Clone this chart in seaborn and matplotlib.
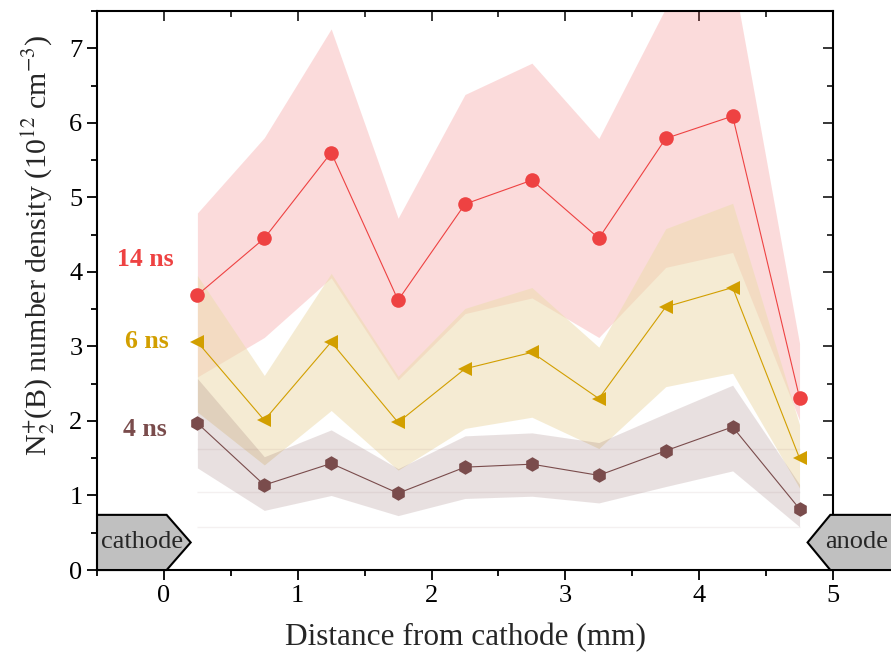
import numpy as np
import pandas as pd
import matplotlib
matplotlib.use('Agg')
import matplotlib.pyplot as plt
from matplotlib.patches import Polygon
from matplotlib.ticker import MultipleLocator
import seaborn as sns

# ---- data ----
x_mm = [0.25, 0.75, 1.25, 1.75, 2.25, 2.75, 3.25, 3.75, 4.25, 4.75]

n_14ns = [3.69, 4.45, 5.60, 3.62, 4.91, 5.23, 4.45, 5.79, 6.09, 2.31]
n_14ns_hi = [4.79, 5.80, 7.26, 4.72, 6.38, 6.80, 5.79, 7.54, 8.00, 3.04]
n_14ns_lo = [2.59, 3.12, 3.92, 2.55, 3.44, 3.65, 3.12, 4.06, 4.26, 2.01]

n_6ns = [3.06, 2.01, 3.06, 1.98, 2.70, 2.92, 2.30, 3.53, 3.79, 1.50]
n_6ns_hi = [3.95, 2.61, 3.98, 2.60, 3.51, 3.79, 2.99, 4.58, 4.92, 1.95]
n_6ns_lo = [2.12, 1.41, 2.14, 1.34, 1.90, 2.05, 1.63, 2.46, 2.64, 1.10]

n_4ns = [1.97, 1.14, 1.43, 1.03, 1.38, 1.42, 1.27, 1.60, 1.92, 0.82]
n_4ns_hi = [2.57, 1.52, 1.88, 1.36, 1.80, 1.84, 1.71, 2.10, 2.48, 1.15]
n_4ns_lo = [1.37, 0.80, 1.00, 0.73, 0.96, 0.99, 0.90, 1.12, 1.33, 0.58]

delays = ['14 ns', '6 ns', '4 ns']
faint_lines = [0.58, 1.05, 1.62]

colors = {'14 ns': '#EE4242', '6 ns': '#D29F00', '4 ns': '#7A4C4C'}
# band fill colours / opacity (pale fills, drawn 14 -> 6 -> 4 ns)
band_colors = {'14 ns': '#EE4242', '6 ns': '#EDDCAF', '4 ns': '#7A4C4C'}
band_alpha = {'14 ns': 0.19, '6 ns': 0.55, '4 ns': 0.17}
markers = {'14 ns': 'o', '6 ns': '<', '4 ns': 'h'}

df = pd.concat([
    pd.DataFrame({'x': x_mm, 'n': n_14ns, 'lo': n_14ns_lo, 'hi': n_14ns_hi, 't': '14 ns'}),
    pd.DataFrame({'x': x_mm, 'n': n_6ns, 'lo': n_6ns_lo, 'hi': n_6ns_hi, 't': '6 ns'}),
    pd.DataFrame({'x': x_mm, 'n': n_4ns, 'lo': n_4ns_lo, 'hi': n_4ns_hi, 't': '4 ns'}),
], ignore_index=True)

# ---- style ----
sns.set_theme(style='ticks')
plt.rcParams['font.family'] = ['Liberation Serif', 'DejaVu Serif']
plt.rcParams['mathtext.fontset'] = 'stix'

fig = plt.figure(figsize=(8.91, 6.67), dpi=100)
ax = fig.add_axes([0.1089, 0.1454, 0.8260, 0.8381])

# bands
for t in delays:
    d = df[df['t'] == t]
    ax.fill_between(d['x'], d['lo'], d['hi'], color=band_colors[t],
                    alpha=band_alpha[t], linewidth=0, zorder=1)

ax.hlines(faint_lines, x_mm[0], x_mm[-1], color='#7A4C4C', alpha=0.08,
          linewidth=1.0, zorder=1)

sns.lineplot(data=df, x='x', y='n', hue='t', style='t', hue_order=delays,
             palette=colors, markers=markers, dashes=False, markersize=10.5,
             markeredgewidth=0, linewidth=0.8, legend=False, errorbar=None,
             ax=ax, zorder=3)

# axes
ax.set_xlim(-0.5, 5.0)
ax.set_ylim(0, 7.5)
ax.xaxis.set_major_locator(MultipleLocator(1))
ax.xaxis.set_minor_locator(MultipleLocator(0.5))
ax.yaxis.set_major_locator(MultipleLocator(1))
ax.yaxis.set_minor_locator(MultipleLocator(0.5))
ax.tick_params(which='both', direction='out', width=1.3, labelsize=19,
               color='black', labelcolor='black')
ax.tick_params(which='major', length=7)
ax.tick_params(which='minor', length=4)
for s in ax.spines.values():
    s.set_linewidth(1.5)
    s.set_color('black')
    s.set_visible(True)

secx = ax.secondary_xaxis('top')
secx.xaxis.set_major_locator(MultipleLocator(1))
secx.xaxis.set_minor_locator(MultipleLocator(0.5))
secx.tick_params(which='both', direction='in', labeltop=False, width=1.3)
secx.tick_params(which='major', length=7)
secx.tick_params(which='minor', length=4)
secy = ax.secondary_yaxis('right')
secy.yaxis.set_major_locator(MultipleLocator(1))
secy.yaxis.set_minor_locator(MultipleLocator(0.5))
secy.tick_params(which='both', direction='in', labelright=False, width=1.3)
secy.tick_params(which='major', length=7)
secy.tick_params(which='minor', length=4)

ax.set_xlabel('Distance from cathode (mm)', fontsize=22.5, labelpad=12)
ax.set_ylabel(r'N$_2^{+}$(B) number density (10$^{12}$ cm$^{-3}$)', fontsize=21.5)
ax.yaxis.set_label_coords(-0.055, 0.58)

# delay labels
label_pos = {'14 ns': (-0.14, 4.17), '6 ns': (-0.13, 3.07), '4 ns': (-0.14, 1.88)}
for t in delays:
    ax.text(*label_pos[t], t, color=colors[t], fontsize=18.5, fontweight='bold',
            ha='center', va='center')

# electrode tags
cath = Polygon([(-0.5, 0), (-0.5, 0.74), (0.02, 0.74), (0.2, 0.37), (0.02, 0)],
               closed=True, facecolor='#C0C0C0', edgecolor='black', lw=1.5,
               clip_on=False, zorder=5)
anod = Polygon([(5.5, 0), (5.5, 0.74), (4.98, 0.74), (4.81, 0.37), (4.98, 0)],
               closed=True, facecolor='#C0C0C0', edgecolor='black', lw=1.5,
               clip_on=False, zorder=5)
ax.add_patch(cath)
ax.add_patch(anod)
ax.text(-0.16, 0.37, 'cathode', fontsize=19, ha='center', va='center', zorder=6)
ax.text(5.18, 0.37, 'anode', fontsize=19, ha='center', va='center', zorder=6,
        clip_on=False)

fig.savefig('out.png', dpi=100)
